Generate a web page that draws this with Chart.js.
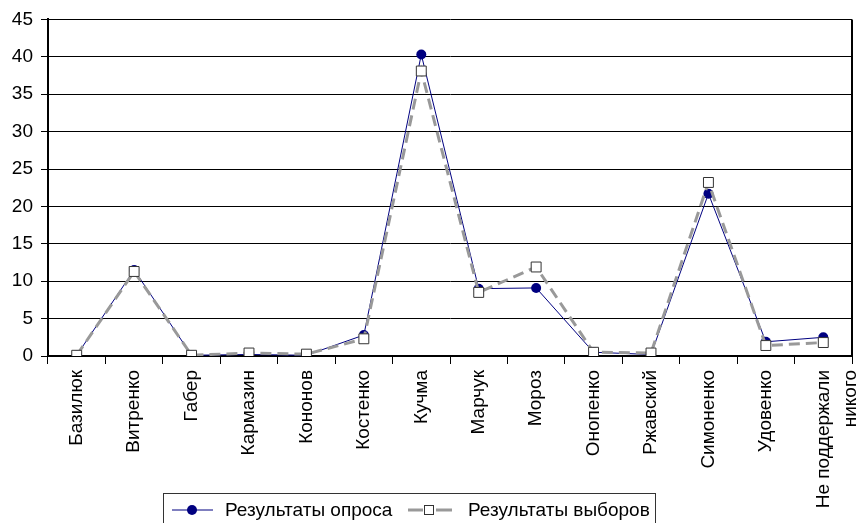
<!DOCTYPE html>
<html>
<head>
<meta charset="utf-8">
<script src="https://cdn.jsdelivr.net/npm/chart.js@4/dist/chart.umd.min.js"></script>
<style>
  html, body { margin: 0; padding: 0; background: #fff; }
  #wrap { width: 862px; height: 523px; position: relative; }
</style>
</head>
<body>
<div id="wrap"><canvas id="chart"></canvas></div>
<script>
// data
const candidates = ['Базилюк', 'Витренко', 'Габер', 'Кармазин', 'Кононов', 'Костенко', 'Кучма',
  'Марчук', 'Мороз', 'Онопенко', 'Ржавский', 'Симоненко', 'Удовенко', ['Не поддержали', 'никого']];
const surveyValues = [0.1, 11.5, 0.1, 0.2, 0.1, 2.8, 40.3, 9.0, 9.1, 0.5, 0.2, 21.7, 1.9, 2.5];
const electionValues = [0.1, 11.3, 0.1, 0.4, 0.25, 2.3, 38.1, 8.5, 11.9, 0.5, 0.4, 23.2, 1.4, 1.8];
const surveyLabel = 'Результаты опроса';
const electionLabel = 'Результаты выборов';

const FONT = '"Liberation Sans", Arial, sans-serif';

// right frame line + boxed legend (line sample with marker, like the original)
const framePlugin = {
  id: 'frame',
  afterDraw(chart) {
    const ctx = chart.ctx;
    const a = chart.chartArea;
    ctx.save();
    ctx.strokeStyle = '#000';
    ctx.lineWidth = 2;
    ctx.beginPath();
    ctx.moveTo(a.right, a.top);
    ctx.lineTo(a.right, a.bottom);
    ctx.stroke();

    // legend box
    ctx.lineWidth = 1;
    ctx.strokeStyle = '#333';
    ctx.strokeRect(163.5, 493.5, 492, 40);

    const y = 510;
    ctx.font = '19px ' + FONT;
    ctx.fillStyle = '#000';
    ctx.textBaseline = 'middle';

    // survey sample
    ctx.strokeStyle = '#000080';
    ctx.beginPath();
    ctx.moveTo(172, y);
    ctx.lineTo(213, y);
    ctx.stroke();
    ctx.fillStyle = '#000080';
    ctx.beginPath();
    ctx.arc(192, y, 5, 0, Math.PI * 2);
    ctx.fill();
    ctx.fillStyle = '#000';
    ctx.fillText(surveyLabel, 225, y + 1);

    // election sample
    ctx.strokeStyle = '#999';
    ctx.lineWidth = 3;
    ctx.beginPath();
    ctx.moveTo(408, y);
    ctx.lineTo(423, y);
    ctx.moveTo(436, y);
    ctx.lineTo(452, y);
    ctx.stroke();
    ctx.lineWidth = 1;
    ctx.fillStyle = '#fff';
    ctx.strokeStyle = '#333';
    ctx.fillRect(424, y - 5, 10, 10);
    ctx.strokeRect(424.5, y - 4.5, 9, 9);
    ctx.fillStyle = '#000';
    ctx.fillText(electionLabel, 468, y + 1);
    ctx.restore();
  }
};

new Chart(document.getElementById('chart'), {
  type: 'line',
  data: {
    labels: candidates,
    datasets: [
      {
        label: surveyLabel,
        data: surveyValues,
        borderColor: '#000080',
        borderWidth: 1,
        pointStyle: 'circle',
        pointRadius: 5,
        pointBackgroundColor: '#000080',
        pointBorderColor: '#000080',
        pointBorderWidth: 0,
        tension: 0,
        order: 1
      },
      {
        label: electionLabel,
        data: electionValues,
        borderColor: '#999999',
        borderWidth: 3,
        borderDash: [11, 6],
        pointStyle: 'rect',
        pointRadius: 7,
        pointBackgroundColor: '#ffffff',
        pointBorderColor: '#333333',
        pointBorderWidth: 1,
        tension: 0,
        order: 0
      }
    ]
  },
  options: {
    responsive: true,
    maintainAspectRatio: false,
    animation: false,
    layout: { padding: { top: 18, right: 10, left: 0, bottom: 0 } },
    plugins: {
      legend: { display: false },
      tooltip: { enabled: false }
    },
    scales: {
      x: {
        offset: true,
        grid: { drawOnChartArea: false, offset: true, tickLength: 8, color: '#000', lineWidth: 1 },
        border: { display: true, color: '#000', width: 2 },
        ticks: {
          autoSkip: false,
          minRotation: 90,
          maxRotation: 90,
          padding: 6,
          color: '#000',
          font: { family: FONT, size: 19, lineHeight: 1.45 }
        },
        afterFit(scale) {
          scale.height = 167;
          scale.paddingLeft = 0;
          scale.paddingRight = 0;
        }
      },
      y: {
        min: 0,
        max: 45,
        ticks: {
          stepSize: 5,
          padding: 8,
          color: '#000',
          font: { family: FONT, size: 19 }
        },
        grid: { color: '#000', lineWidth: 1, tickLength: 7 },
        border: { display: true, color: '#000', width: 2 },
        afterFit(scale) { scale.width = 48; }
      }
    }
  },
  plugins: [framePlugin]
});
</script>
</body>
</html>
